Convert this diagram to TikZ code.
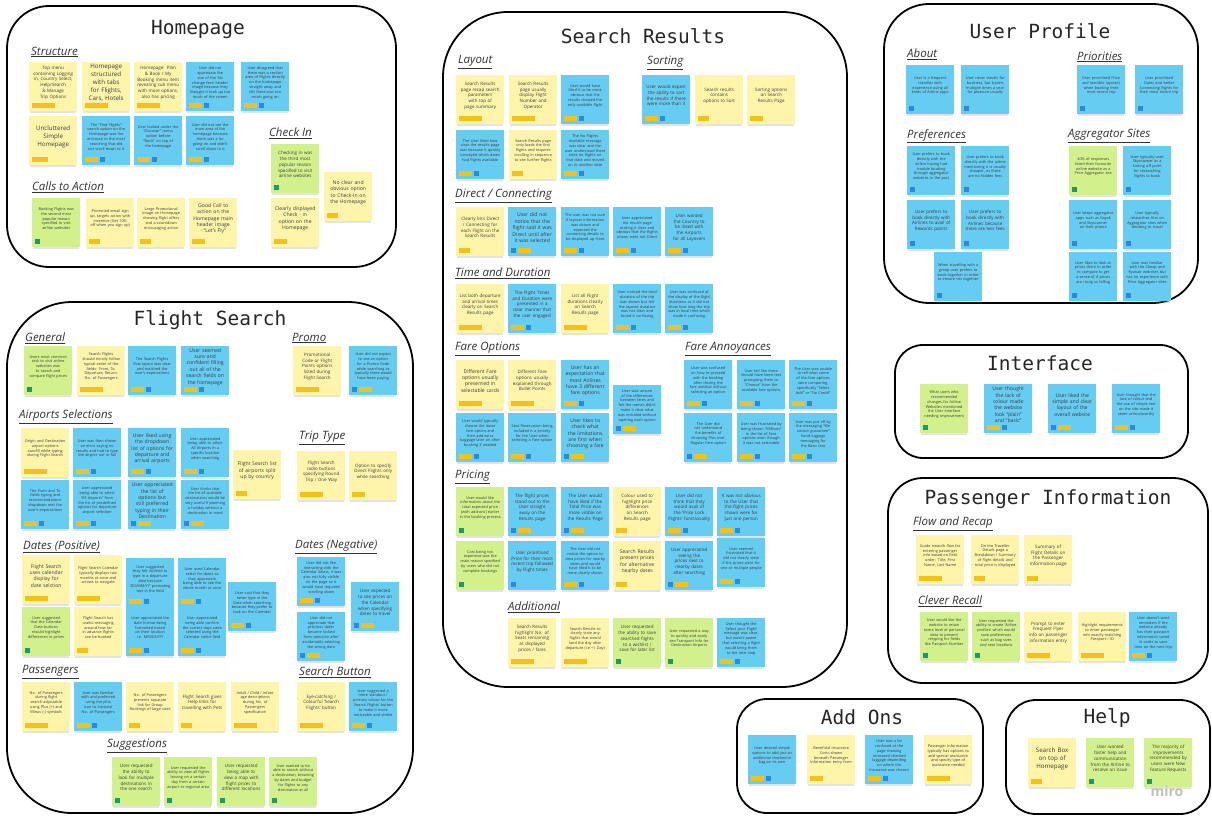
\documentclass[tikz,border=0pt]{standalone}
\usepackage{fontspec}
\setmainfont{Open Sans}
\newfontfamily\titlefont{DejaVu Sans Mono}
\usepackage{xcolor}
\usepackage{tikz}
\usetikzlibrary{positioning,shadows}

\definecolor{stickyyel}{HTML}{FFF5AA}
\definecolor{stickyblu}{HTML}{66CCF2}
\definecolor{stickygrn}{HTML}{D2F08C}
\definecolor{tagyel}{HTML}{F2C21B}
\definecolor{tagblu}{HTML}{2A8BDD}
\definecolor{taggrn}{HTML}{1E9A66}
\definecolor{inkgray}{HTML}{3C3C3C}

\hyphenpenalty=10000
\exhyphenpenalty=10000

\begin{document}
\begin{tikzpicture}[
  x=1pt, y=-1pt,
  frame/.style={draw=black,line width=1.8pt,fill=white},
  title/.style={font=\titlefont\fontsize{19.5}{22}\selectfont,text=black!85},
  head/.style={anchor=west,inner sep=0pt,font=\itshape\fontsize{11.5}{13}\selectfont,text=black!80},
  note/.style={anchor=north west,minimum width=48pt,minimum height=49pt,inner sep=0pt,
    drop shadow={opacity=.22,shadow xshift=0pt,shadow yshift=-2.5pt,shadow scale=.97}},
  noteyel/.style={note,fill=stickyyel},
  noteblu/.style={note,fill=stickyblu},
  notegrn/.style={note,fill=stickygrn},
  txt/.style={text width=42pt,align=center,inner sep=0pt,text=inkgray},
  txtb/.style={txt,font=\fontsize{6.2}{7.9}\selectfont},
  txtm/.style={txt,font=\fontsize{5.1}{6.4}\selectfont},
  txts/.style={txt,font=\fontsize{4.5}{5.7}\selectfont},
  txtt/.style={txt,font=\fontsize{3.8}{4.8}\selectfont},
  tag/.style={inner sep=0pt,minimum height=5pt},
  tagL/.style={tag,fill=tagyel,minimum width=23pt},
  tagM/.style={tag,fill=tagyel,minimum width=16pt},
  tagS/.style={tag,fill=tagyel,minimum width=11pt},
  tagY/.style={tag,fill=tagyel,minimum width=13pt},
  tagB/.style={tag,fill=tagblu,minimum width=5pt},
  tagG/.style={tag,fill=taggrn,minimum width=5pt}
]
\useasboundingbox[fill=white] (0,0) rectangle (1212,824);

% sticky note: name, x, y, colour, text size, tags, text
\newcommand{\stick}[7]{%
  \node[note#4] (#1) at (#2,#3) {};
  \node[txt#5] (#1txt) at ([yshift=4pt]#1.center) {#7};
  \foreach \t [count=\i, remember=\i as \j (initially 0)] in {#6}{%
    \ifnum\i=1
      \node[tag\t,anchor=south west] (#1t\i) at ([shift={(3pt,3pt)}]#1.south west) {};
    \else
      \node[tag\t,right=1.5pt of #1t\j] (#1t\i) {};
    \fi}}

% group frames
\draw[frame,rounded corners=42pt] (7,6) rectangle (396,267);
\draw[frame,rounded corners=65pt] (7,302) rectangle (413,813);
\draw[frame,rounded corners=65pt] (443,12) rectangle (847,687);
\draw[frame,rounded corners=45pt] (884,4) rectangle (1198,303);
\draw[frame,rounded corners=28pt] (895,345) rectangle (1188,458);
\draw[frame,rounded corners=35pt] (888,478) rectangle (1208,683);
\draw[frame,rounded corners=30pt] (737,699) rectangle (983,813);
\draw[frame,rounded corners=30pt] (1006,700) rectangle (1210,814);

% group titles
\node[title] (thome) at (198,29) {Homepage};
\node[title] (tflight) at (210,320) {Flight Search};
\node[title] (tresults) at (643,36) {Search Results};
\node[title] (tprofile) at (1040,31) {User Profile};
\node[title] (tiface) at (1040,363) {Interface};
\node[title] (tpass) at (1048,499) {Passenger Information};
\node[title] (taddons) at (862,717) {Add Ons};
\node[title] (thelp) at (1107,718) {Help};

% sub headings
\node[head] (hstruct) at (31,52) {\underline{Structure}};
\node[head] (hcheck) at (269,133) {\underline{Check In}};
\node[head] (hcalls) at (32,187) {\underline{Calls to Action}};
\node[head] (hgeneral) at (25,338) {\underline{General}};
\node[head] (hpromo) at (292,338) {\underline{Promo}};
\node[head] (hairports) at (19,417) {\underline{Airports Selections}};
\node[head] (htrip) at (299,438) {\underline{Trip Type}};
\node[head] (hdatespos) at (23,547) {\underline{Dates (Positive)}};
\node[head] (hdatesneg) at (295,547) {\underline{Dates (Negative)}};
\node[head] (hpassengers) at (22,672) {\underline{Passengers}};
\node[head] (hbutton) at (299,672) {\underline{Search Button}};
\node[head] (hsuggest) at (107,746) {\underline{Suggestions}};
\node[head] (hlayout) at (458,62) {\underline{Layout}};
\node[head] (hsorting) at (647,63) {\underline{Sorting}};
\node[head] (hdirect) at (455,196) {\underline{Direct / Connecting}};
\node[head] (htime) at (455,273) {\underline{Time and Duration}};
\node[head] (hfare) at (455,349) {\underline{Fare Options}};
\node[head] (hannoy) at (685,349) {\underline{Fare Annoyances}};
\node[head] (hpricing) at (455,477) {\underline{Pricing}};
\node[head] (hadditional) at (508,607) {\underline{Additional}};
\node[head] (habout) at (907,54) {\underline{About}};
\node[head] (hprior) at (1077,57) {\underline{Priorities}};
\node[head] (hpref) at (907,136) {\underline{Preferences}};
\node[head] (haggr) at (1068,136) {\underline{Aggregator Sites}};
\node[head] (hflow) at (913,524) {\underline{Flow and Recap}};
\node[head] (hrecall) at (918,601) {\underline{Clever Recall}};

% Homepage
\stick{hp1}{29}{62}{yel}{s}{L}{Top menu containing Logging in, Country Select, Help/Search \& Manage Trip Options}
\stick{hp2}{82}{62}{yel}{b}{L}{Homepage structured with tabs for Flights, Cars, Hotels}
\stick{hp3}{134}{62}{yel}{s}{L}{Homepage: Plan \& Book / My Booking menu item revealing sub menu with more options, also has pricing}
\stick{hp4}{186}{62}{blu}{t}{Y,B}{User did not appreciate the size of the ‘No change fees’ header image because they thought it took up too much of the screen}
\stick{hp5}{241}{62}{blu}{t}{Y,B}{User disagreed that there was a section area of Flights directly on the homepage straight away and felt there was too much going on}
\stick{hp6}{29}{116}{yel}{b}{M}{Uncluttered Simple Homepage}
\stick{hp7}{82}{116}{blu}{t}{Y,B}{The “Find Flights” search option on the Homepage was the entrance to the most searching that did not scroll down to it}
\stick{hp8}{134}{116}{blu}{t}{Y,B}{User looked under the “Discover” menu option before “Book” on top of the homepage}
\stick{hp9}{186}{116}{blu}{t}{Y,B}{User did not see the main area of the homepage because there was a lot going on and didn’t scroll down to it}
\stick{hp10}{32}{198}{grn}{t}{G}{Booking Flights was the second most popular reason specified to visit airline websites}
\stick{hp11}{86}{198}{yel}{t}{S}{Promoted email sign up, targets action with incentive (Get 10\% off when you sign up)}
\stick{hp12}{137}{198}{yel}{t}{S}{Large Promotional image on Homepage showing flight offers and a countdown encouraging action}
\stick{hp13}{189}{198}{yel}{m}{Y}{Good Call to action on the Homepage main header image - “Let’s Fly”}
\stick{hp14}{271}{144}{grn}{s}{G}{Checking in was the third most popular reason specified to visit airline websites}
\stick{hp15}{271}{198}{yel}{m}{Y}{Clearly displayed Check - in option on the Homepage}
\stick{hp16}{324}{172}{yel}{m}{S}{No clear and obvious option to Check-In on the Homepage}

% Flight Search
\stick{fs1}{24}{346}{grn}{t}{G}{Users most common task to visit airline websites was to search and compare flight prices}
\stick{fs2}{77}{346}{yel}{t}{L}{Search Flights should mostly follow typical order of the fields: From, To, Departure, Return, No. of Passengers}
\stick{fs3}{128}{346}{blu}{t}{Y,B}{The Search Flights flow layout was clear and matched the user’s expectations}
\stick{fs4}{181}{346}{blu}{m}{Y,B}{User seemed sure and confident filling out all of the search fields on the homepage}
\stick{fs5}{293}{346}{yel}{s}{L}{Promotional Code or Flight Points options listed during Flight Search}
\stick{fs6}{349}{346}{blu}{t}{B,Y}{User did not expect to see an option for a Promo Code while searching as typically there would have been paying}
\stick{fs7}{21}{428}{yel}{t}{L}{Origin and Destination airport options autofill while typing during Flight Search}
\stick{fs8}{73}{428}{blu}{t}{Y,B}{User was then shown an error saying no results and had to type the airport out in full}
\stick{fs9}{128}{428}{blu}{m}{Y,B}{User liked using the dropdown list of options for departure and arrival airports}
\stick{fs10}{181}{428}{blu}{t}{Y,B}{User appreciated being able to select All Airports in a specific location when searching}
\stick{fs11}{233}{450}{yel}{m}{S}{Flight Search list of airports split up by country}
\stick{fs12}{21}{480}{blu}{t}{Y,B}{The From and To fields typing and recommendations dropdown met the user’s expectations}
\stick{fs13}{73}{480}{blu}{t}{Y,B}{User appreciated being able to select “All Airports” from the list of predefined options for departure airport selection}
\stick{fs14}{128}{480}{blu}{m}{B,Y}{User appreciated the list of options but still preferred typing in their Destination}
\stick{fs15}{181}{480}{blu}{t}{B,Y}{User thinks that the list of available destinations would be very useful if planning a holiday without a destination in mind}
\stick{fs16}{297}{451}{yel}{s}{L}{Flight Search radio buttons specifying Round Trip / One Way}
\stick{fs17}{349}{451}{yel}{s}{Y}{Option to specify Direct Flights only while searching}
\stick{fs18}{22}{555}{yel}{m}{L}{Flight Search uses calendar display for date selction}
\stick{fs19}{74}{555}{yel}{t}{L}{Flight Search Calendar typically displays two months at once and arrows to navigate}
\stick{fs20}{126}{558}{blu}{t}{Y,B}{User suggested they felt inclined to type in a departure date because ‘DD/MM/YY’ prompting text in the field}
\stick{fs21}{178}{558}{blu}{t}{Y,B}{User used Calendar select for dates as they appreciate being able to see the whole month at once}
\stick{fs22}{228}{582}{blu}{t}{Y,B}{User said that they never type in the Date when searching because they prefer to look on the Calendar}
\stick{fs23}{22}{607}{grn}{t}{G}{User suggested that the Calendar Date buttons should highlight differences in prices}
\stick{fs24}{74}{607}{yel}{t}{S}{Flight Search has useful messaging around how far in advance flights can be booked}
\stick{fs25}{126}{607}{blu}{t}{Y,B}{User appreciated the date format being formatted based on their location i.e. MM/DD/YY}
\stick{fs26}{178}{607}{blu}{t}{Y,B}{User appreciated being able confirm the correct days were selected using the Calendar select field}
\stick{fs27}{297}{557}{blu}{t}{Y,B}{User did not like interacting with the Calendar Select, it was also not fully visible on the page so it would have required scrolling down}
\stick{fs28}{351}{582}{blu}{s}{B,Y}{User expected to see prices on the Calendar when specifying dates to travel}
\stick{fs29}{297}{612}{blu}{t}{B,Y}{User did not appreciate that previous dates became locked from selection after accidentally selecting the wrong date}
\stick{fs30}{22}{682}{yel}{t}{L}{No. of Passengers during flight search adjustable using Plus (+) and Minus (-) symbols}
\stick{fs31}{74}{682}{blu}{t}{Y,B}{User was familiar with and preferred using the plus icon to increase No. of Passengers}
\stick{fs32}{126}{682}{yel}{t}{S}{No. of Passengers presents separate link for Group Bookings of large sizes}
\stick{fs33}{178}{682}{yel}{s}{S}{Flight Search gives Help links for travelling with Pets}
\stick{fs34}{231}{682}{yel}{t}{L}{Adult / Child / Infant age descriptions during No. of Passengers specification}
\stick{fs35}{297}{682}{yel}{s}{L}{Eye-catching / Colourful ‘Search Flights’ button}
\stick{fs36}{349}{682}{blu}{t}{Y,B}{User suggested a more standout / primary colour for the ‘Search Flights’ button to make it more noticeable and visible}
\stick{fs37}{112}{757}{grn}{s}{G}{User requested the ability to look for multiple destinations in the one search}
\stick{fs38}{164}{757}{grn}{t}{G}{User requested the ability to view all flights leaving on a certain day from a certain airport or regional area}
\stick{fs39}{217}{757}{grn}{s}{G}{User requested being able to view a map with flight prices to different locations}
\stick{fs40}{269}{757}{grn}{t}{G}{User wanted to be able to search without a destination, browsing by dates and budget for flights to any destination at all}

% Search Results
\stick{sr1}{456}{75}{yel}{s}{L}{Search Results page recap search parameters with top of page summary}
\stick{sr2}{509}{75}{yel}{s}{L}{Search Results page usually display Flight Number and Operator}
\stick{sr3}{561}{75}{blu}{t}{Y,B}{User would have liked it to be more obvious that the results showed the only available flight}
\stick{sr4}{456}{130}{blu}{t}{Y,B}{The User liked how clear the results page was because it quickly conveyed which dates had flights available}
\stick{sr5}{509}{130}{yel}{t}{S}{Search Results page only loads the first flights and requires scrolling in sequence to see further flights}
\stick{sr6}{561}{130}{blu}{t}{Y,B}{The No Flights Available message was clear and the user understood there were no flights on that date and moved on to another date}
\stick{sr7}{642}{75}{blu}{s}{Y,B}{User would expect the ability to sort the results if there were more than 3}
\stick{sr8}{695}{75}{yel}{s}{S}{Search results contains options to Sort}
\stick{sr9}{747}{75}{yel}{s}{Y}{Sorting options on Search Results Page}
\stick{sr10}{456}{207}{yel}{s}{S}{Clearly lists Direct / Connecting for each Flight on the Search Results}
\stick{sr11}{508}{207}{blu}{m}{B,Y}{User did not notice that the flight said it was Direct until after it was selected}
\stick{sr12}{561}{207}{blu}{t}{Y,B}{The user was not sure if layover information was shown and expected the connecting details to be displayed up front}
\stick{sr13}{613}{207}{blu}{t}{Y,B}{User appreciated the results page making it clear and obvious that the flights shown were not Direct}
\stick{sr14}{665}{207}{blu}{s}{Y,B}{User wanted the Country to be listed with the Airports for all Layovers}
\stick{sr15}{456}{284}{yel}{s}{L}{List both departure and arrival times clearly on Search Results page}
\stick{sr16}{508}{284}{blu}{s}{Y,B}{The Flight Times and Duration were presented in a clear manner that the user engaged}
\stick{sr17}{561}{284}{yel}{s}{L}{List all Flight durations clearly on Search Results page}
\stick{sr18}{613}{284}{blu}{t}{Y,B}{User noticed the total duration of the trip was shown but felt the layover duration was not clear and found it confusing}
\stick{sr19}{665}{284}{blu}{t}{Y,B}{User was confused at the display of the flight durations as it did not show how long the trip was in local time which made it confusing}
\stick{sr20}{456}{360}{yel}{m}{L}{Different Fare options usually presented in selectable cards}
\stick{sr21}{508}{360}{yel}{s}{L}{Different Fare options usually explained through Bullet Points}
\stick{sr22}{561}{360}{blu}{m}{Y,B}{User has an expectation that most Airlines have 3 different fare options}
\stick{sr23}{613}{385}{blu}{t}{B,Y}{User was unsure of the differences between fares and felt the names didn’t make it clear what was included without opening each option}
\stick{sr24}{456}{413}{blu}{t}{Y,B}{User would typically choose the lower fare option and then add extra baggage later on after booking if needed}
\stick{sr25}{508}{413}{blu}{t}{Y,B}{Seat Reservation being included is a priority for the User when selecting a Fare option}
\stick{sr26}{561}{413}{blu}{m}{B,Y}{User likes to check what the limitations are first when choosing a fare}
\stick{sr27}{684}{360}{blu}{t}{Y,B}{User was confused on how to proceed with the booking after closing the fare window without selecting an option}
\stick{sr28}{737}{360}{blu}{t}{Y,B}{User felt like there should have been text prompting them to “Choose” from the available fare options}
\stick{sr29}{789}{360}{blu}{t}{Y,B}{The User was unable to tell what some of the fare options were comparing, specifically “Select Add” or “No Credit”}
\stick{sr30}{684}{413}{blu}{t}{B,Y}{The User did not understand the benefits of choosing Plus over Regular Fare option}
\stick{sr31}{737}{413}{blu}{t}{Y,B}{User was frustrated by being shown “Millions” in the list of Fare options even though it was not selectable}
\stick{sr32}{789}{413}{blu}{t}{Y,B}{User was put off by the messaging “We cannot guarantee” hand luggage messaging for the Basic fare}
\stick{sr33}{456}{487}{grn}{t}{G}{User would like information about the total expected price (with add-ons) earlier in the booking process}
\stick{sr34}{508}{487}{blu}{s}{B,Y}{The flight prices stood out to the User straight away on the Results page}
\stick{sr35}{561}{487}{blu}{s}{B,Y}{The User would have liked if the Total Price was more visible on the Results Page}
\stick{sr36}{613}{487}{yel}{s}{S}{Colour used to highlight price differences on Search Results page}
\stick{sr37}{665}{487}{blu}{s}{Y,B}{User did not think that they would avail of the ‘Price Lock Flights’ functionality}
\stick{sr38}{717}{487}{blu}{s}{Y,B}{It was not obvious to the User that the flight prices shown were for just one person}
\stick{sr39}{456}{541}{grn}{t}{G}{Cost being too expensive was the main reason specified by users who did not complete bookings}
\stick{sr40}{508}{541}{blu}{s}{B}{User prioritised Price for their most recent trip followed by Flight times}
\stick{sr41}{561}{541}{blu}{t}{Y,B}{The User did not notice the option to view prices for nearby dates and would have liked it to be more clearly shown}
\stick{sr42}{613}{541}{yel}{m}{S}{Search Results present prices for alternative nearby dates}
\stick{sr43}{665}{541}{blu}{s}{B,Y}{User appreciated seeing the prices next to nearby dates after searching}
\stick{sr44}{717}{538}{blu}{t}{Y,B}{User seemed frustrated that it did not clearly state if the prices were for one or multiple people}
\stick{sr45}{508}{618}{yel}{s}{L}{Search Results highlight No. of Seats remaining at displayed prices / fares}
\stick{sr46}{561}{618}{yel}{t}{L}{Search Results to clearly state any flights that would land the day after departure (i.e +1 Day)}
\stick{sr47}{613}{618}{grn}{s}{G}{User requested the ability to save searched flights to a wishlist / save for later list}
\stick{sr48}{665}{618}{grn}{t}{G}{User requested a way to quickly and easily see Transport Info for Destination Airports}
\stick{sr49}{717}{618}{blu}{t}{Y,B}{User thought the ‘Select your Flight’ message was clear, but wasn’t aware that selecting a flight would bring them to the next step}

% User Profile
\stick{up1}{906}{65}{blu}{t}{B}{User is a frequent traveller with experience using all kinds of Airline apps}
\stick{up2}{961}{65}{blu}{t}{B}{User never travels for business, but travels multiple times a year for pleasure usually}
\stick{up3}{1077}{65}{blu}{t}{B}{User prioritised Price and sensible layovers when booking their most recent trip}
\stick{up4}{1135}{65}{blu}{t}{B}{User prioritised Dates and better Connecting flights for their most recent trip}
\stick{up5}{907}{146}{blu}{t}{B}{User prefers to book directly with the airline having had trouble booking through aggregator websites in the past}
\stick{up6}{961}{146}{blu}{t}{B}{User prefers to book directly with the airline mentioning it is usually cheaper, as there are no hidden fees}
\stick{up7}{907}{200}{blu}{s}{B}{User prefers to book directly with Airlines to avail of Rewards points}
\stick{up8}{961}{200}{blu}{s}{B}{User prefers to book directly with Airlines because there are less fees}
\stick{up9}{934}{252}{blu}{t}{B}{When travelling with a group user prefers to book together in order to ensure sits together}
\stick{up10}{1069}{146}{grn}{t}{G}{40\% of responses listed their favourite airline website as a Price Aggregator site}
\stick{up11}{1123}{146}{blu}{t}{B}{User typically uses Skyscanner as a kicking off point for researching flights to book}
\stick{up12}{1069}{200}{blu}{t}{B}{User keeps aggregator apps such as Kayak and Skyscanner on their phone}
\stick{up13}{1123}{200}{blu}{t}{B}{User typically researches first on Aggregator sites when deciding to travel}
\stick{up14}{1069}{252}{blu}{t}{B}{User likes to look at prices there in order to compare to get a sense of if prices are rising or falling}
\stick{up15}{1123}{252}{blu}{t}{B}{User was familiar with the Cheap and Ryanair websites but has no experience with Price Aggregator sites}

% Interface
\stick{if1}{920}{384}{grn}{t}{G}{What users who recommended changes for Airline Websites mentioned the User Interface needing improvement}
\stick{if2}{984}{384}{blu}{m}{Y,B}{User thought the lack of colour made the website look “plain” and “basic”}
\stick{if3}{1048}{384}{blu}{m}{B,Y}{User liked the simple and clear layout of the overall website}
\stick{if4}{1112}{384}{blu}{t}{Y,B}{User thought that the lack of colour and the use of simple text on the site made it seem untrustworthy}

% Passenger Information
\stick{pi1}{916}{535}{yel}{t}{L}{Guide smooth flow for entering passenger info based on field order: Title, First Name, Last Name}
\stick{pi2}{971}{535}{yel}{t}{S}{On the Traveller Details page a Breakdown / Summary of flight details and total price is displayed}
\stick{pi3}{1024}{535}{yel}{s}{S}{Summary of Flight Details on the Passenger Information page}
\stick{pi4}{920}{612}{grn}{t}{G}{User would like the website to retain some level of personal data to prevent retyping for fields like Passport Number}
\stick{pi5}{972}{612}{grn}{t}{G}{User requested the ability to create ‘Airline profiles’ which would save preferences such as bag sizes and seat locations}
\stick{pi6}{1024}{612}{yel}{s}{L}{Prompt to enter Frequent Flyer info on passenger information entry}
\stick{pi7}{1078}{612}{yel}{t}{L}{Highlight requirements to enter passenger info exactly matching Passport / ID}
\stick{pi8}{1129}{612}{blu}{t}{Y,B}{User doesn’t want reminders if the website already has their passport information saved in order to save time on the next trip}

% Add Ons
\stick{ao1}{748}{735}{blu}{t}{Y,B}{User desired simple options to add just an additional checked-in bag on its own}
\stick{ao2}{807}{735}{yel}{t}{Y}{Beneficial Insurance Costs shown beneath Passenger Information entry form}
\stick{ao3}{865}{735}{blu}{t}{Y,B}{User was a bit confused at the page showing increased checked luggage depending on where the insurance was chosen}
\stick{ao4}{924}{735}{yel}{t}{L}{Passenger Information typically has options to add special assistance and specify type of assistance needed}

% Help
\stick{hl1}{1028}{738}{yel}{b}{S}{Search Box on top of Homepage}
\stick{hl2}{1086}{738}{grn}{s}{G}{User wanted faster help and communication from the Airline to resolve an issue}
\stick{hl3}{1144}{738}{grn}{s}{G}{The majority of improvements recommended by users were New Feature Requests}

\node[font=\bfseries\fontsize{14}{14}\selectfont,text=black!25] (miro) at (1167,791) {miro};
\end{tikzpicture}
\end{document}
